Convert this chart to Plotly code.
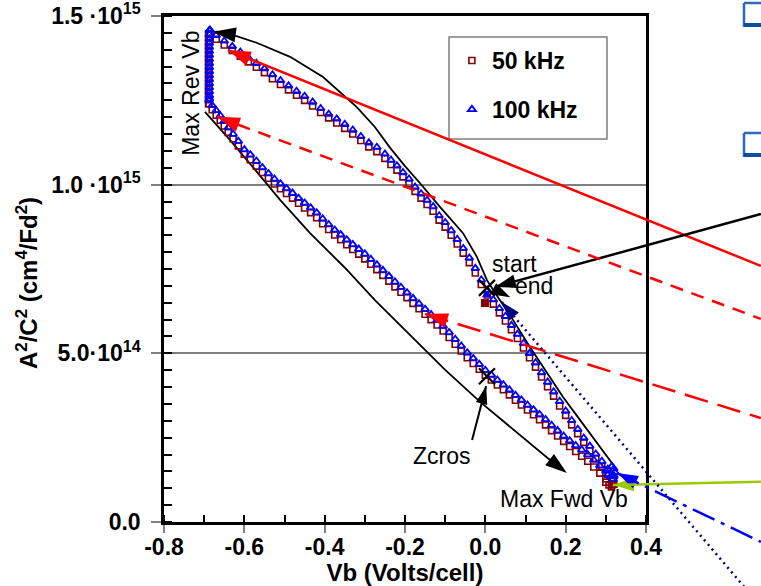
import math
import plotly.graph_objects as go

# ---------------- axes ----------------
X_RANGE = [-0.8, 0.4]
Y_MAX = 1.5          # in units of 1e15
SCALE = 1e15
x_tickvals = [-0.8, -0.6, -0.4, -0.2, 0.0, 0.2, 0.4]
x_ticktext = ["-0.8", "-0.6", "-0.4", "-0.2", "0.0", "0.2", "0.4"]
y_tickvals = [0.0, 0.5, 1.0, 1.5]
y_ticktext = ["0.0", "5.0·10<sup>14</sup>", "1.0 ·10<sup>15</sup>", "1.5 ·10<sup>15</sup>"]
x_title = "Vb (Volts/cell)"
y_title = "A<sup>2</sup>/C<sup>2</sup> (cm<sup>4</sup>/Fd<sup>2</sup>)"

# ---------------- data (A^2/C^2 in 1e15 cm^4/Fd^2) ----------------
# Max Rev Vb vertical segment
vb_rev_100 = [-0.687] * 18
a_rev_100 = [1.458, 1.445, 1.432, 1.420, 1.408, 1.396, 1.384, 1.372, 1.360,
             1.348, 1.336, 1.324, 1.312, 1.300, 1.288, 1.276, 1.264, 1.255]
vb_rev_50 = [-0.689] * 18
a_rev_50 = [1.447, 1.434, 1.421, 1.409, 1.397, 1.385, 1.373, 1.361, 1.349,
            1.337, 1.325, 1.313, 1.301, 1.289, 1.277, 1.265, 1.252, 1.240]

# branch from Max Rev Vb down to Max Fwd Vb
vb_down = [-0.688, -0.680, -0.670, -0.660, -0.650, -0.640, -0.628, -0.615, -0.600, -0.585,
           -0.570, -0.555, -0.540, -0.525, -0.510, -0.495, -0.480, -0.465, -0.450, -0.435,
           -0.420, -0.405, -0.390, -0.375, -0.360, -0.345, -0.330, -0.315, -0.300, -0.285,
           -0.270, -0.255, -0.240, -0.225, -0.210, -0.195, -0.180, -0.165, -0.150, -0.135,
           -0.120, -0.105, -0.090, -0.075, -0.060, -0.045, -0.030, -0.015, 0.000, 0.015,
           0.030, 0.045, 0.060, 0.075, 0.090, 0.105, 0.120, 0.135, 0.150, 0.165,
           0.180, 0.195, 0.210, 0.225, 0.240, 0.255, 0.270, 0.285, 0.300, 0.315]
a_down_100 = [1.251, 1.235, 1.220, 1.205, 1.188, 1.169, 1.150, 1.129, 1.104, 1.089,
              1.070, 1.051, 1.033, 1.017, 1.003, 0.989, 0.975, 0.960, 0.946, 0.932,
              0.917, 0.899, 0.882, 0.866, 0.852, 0.837, 0.823, 0.809, 0.795, 0.779,
              0.763, 0.746, 0.729, 0.712, 0.696, 0.680, 0.663, 0.647, 0.631, 0.615,
              0.599, 0.581, 0.562, 0.542, 0.522, 0.502, 0.485, 0.468, 0.450, 0.436,
              0.421, 0.407, 0.392, 0.376, 0.362, 0.347, 0.333, 0.319, 0.304, 0.287,
              0.271, 0.255, 0.241, 0.227, 0.214, 0.200, 0.184, 0.167, 0.152, 0.138]
a_down_50 = [1.240, 1.222, 1.206, 1.191, 1.174, 1.155, 1.136, 1.115, 1.090, 1.074,
             1.055, 1.036, 1.019, 1.002, 0.988, 0.974, 0.960, 0.945, 0.931, 0.917,
             0.902, 0.884, 0.867, 0.851, 0.837, 0.822, 0.808, 0.794, 0.780, 0.764,
             0.748, 0.731, 0.714, 0.697, 0.681, 0.665, 0.648, 0.632, 0.616, 0.600,
             0.584, 0.566, 0.547, 0.527, 0.507, 0.487, 0.470, 0.453, 0.435, 0.421,
             0.406, 0.392, 0.377, 0.361, 0.347, 0.332, 0.318, 0.303, 0.288, 0.271,
             0.255, 0.239, 0.224, 0.209, 0.195, 0.180, 0.163, 0.145, 0.128, 0.110]

# turn-around at Max Fwd Vb
vb_fwd_100 = [0.305, 0.312, 0.318, 0.320, 0.322, 0.320, 0.315]
a_fwd_100 = [0.140, 0.135, 0.128, 0.138, 0.148, 0.158, 0.165]
vb_fwd_50 = [0.300, 0.308, 0.314, 0.316, 0.314]
a_fwd_50 = [0.118, 0.110, 0.104, 0.112, 0.122]

# branch from Max Fwd Vb back up to Max Rev Vb
vb_up = [0.320, 0.305, 0.290, 0.275, 0.260, 0.245, 0.230, 0.215, 0.200, 0.185,
         0.170, 0.155, 0.140, 0.125, 0.110, 0.095, 0.080, 0.065, 0.050, 0.035,
         0.020, 0.005, -0.010, -0.025, -0.040, -0.055, -0.070, -0.085, -0.100, -0.115,
         -0.130, -0.145, -0.160, -0.175, -0.190, -0.205, -0.220, -0.235, -0.250, -0.270,
         -0.290, -0.310, -0.330, -0.350, -0.370, -0.390, -0.410, -0.430, -0.450, -0.470,
         -0.490, -0.510, -0.530, -0.550, -0.570, -0.590, -0.610, -0.630, -0.650, -0.670,
         -0.685]
a_up_100 = [0.135, 0.157, 0.180, 0.202, 0.225, 0.249, 0.275, 0.301, 0.329, 0.358,
            0.386, 0.415, 0.443, 0.472, 0.500, 0.530, 0.557, 0.583, 0.610, 0.633,
            0.659, 0.687, 0.718, 0.752, 0.783, 0.811, 0.838, 0.864, 0.888, 0.908,
            0.935, 0.954, 0.973, 0.993, 1.017, 1.036, 1.056, 1.073, 1.091, 1.111,
            1.124, 1.143, 1.162, 1.179, 1.195, 1.209, 1.226, 1.245, 1.262, 1.277,
            1.293, 1.309, 1.326, 1.344, 1.360, 1.376, 1.393, 1.410, 1.426, 1.443,
            1.458]
a_up_50 = [0.112, 0.140, 0.165, 0.188, 0.211, 0.236, 0.262, 0.288, 0.316, 0.344,
           0.373, 0.401, 0.430, 0.459, 0.487, 0.516, 0.544, 0.570, 0.596, 0.620,
           0.646, 0.673, 0.704, 0.738, 0.769, 0.797, 0.824, 0.850, 0.874, 0.895,
           0.921, 0.941, 0.960, 0.980, 1.003, 1.023, 1.043, 1.060, 1.078, 1.098,
           1.112, 1.131, 1.150, 1.167, 1.183, 1.198, 1.214, 1.233, 1.250, 1.265,
           1.281, 1.297, 1.314, 1.332, 1.348, 1.364, 1.381, 1.398, 1.414, 1.431,
           1.447]

# start points (filled)
start_50 = (-0.001, 0.649)
start_100 = (0.004, 0.673)

# fitted guide curves (black)
vb_guide_upper = [-0.660, -0.636, -0.568, -0.486, -0.404, -0.320, -0.275, -0.237, -0.200, -0.163, -0.113,
                  -0.056, -0.021, 0.004, 0.031, 0.061, 0.111, 0.153, 0.193, 0.236, 0.278, 0.328]
a_guide_upper = [1.451, 1.447, 1.420, 1.379, 1.319, 1.230, 1.171, 1.109, 1.055, 1.005, 0.934,
                 0.857, 0.786, 0.717, 0.667, 0.614, 0.519, 0.445, 0.371, 0.302, 0.234, 0.154]
vb_guide_lower = [-0.698, -0.636, -0.573, -0.511, -0.437, -0.349, -0.275, -0.188, -0.100, -0.013, 0.086, 0.161, 0.190]
a_guide_lower = [1.216, 1.133, 1.044, 0.955, 0.857, 0.753, 0.658, 0.554, 0.451, 0.356, 0.258, 0.184, 0.158]

# cross markers (start / zero crossing)
vb_cross = [0.004, 0.004]
a_cross = [0.694, 0.432]

# arrows: head x, head y, tail x, tail y, color, width, dash, head size
arrows = [
    (-0.641, 1.399, 0.686, 0.759, "#ff0000", 2.5, "solid", 24),
    (0.024, 0.697, 0.686, 0.913, "#000000", 2.5, "solid", 22),
    (0.318, 0.110, 0.686, 0.119, "#99cc00", 2.5, "solid", 22),
    (-0.668, 1.201, 0.686, 0.602, "#ff0000", 2.5, "13px,9px", 24),
    (-0.150, 0.617, 0.686, 0.308, "#ff0000", 2.5, "24px,10px", 24),
    (0.328, 0.145, 0.686, -0.059, "#0000ff", 2.5, "24px,7px,4px,7px", 22),
    (0.041, 0.652, 0.650, -0.200, "#000080", 2.5, "2px,4px", 20),
    (0.002, 0.403, -0.033, 0.243, "#000000", 2.0, "solid", 19),
]
# heads only (ends of the black guide curves, "end" marker)
heads_only = [
    (-0.678, 1.453, -0.623, 1.444, 24),
    (0.203, 0.145, 0.161, 0.184, 23),
    (0.062, 0.666, 0.031, 0.685, 20),
]

labels = ["Max Rev Vb", "start", "end", "Zcros", "Max Fwd Vb"]
label_x = [-0.733, 0.072, 0.120, -0.108, 0.196]
label_y = [1.272, 0.764, 0.700, 0.196, 0.068]
label_angle = [-90, 0, 0, 0, 0]

# ---------------- layout constants ----------------
W, H = 761, 586
ML, MR, MT, MB = 164, 115, 16, 64
PW, PH = W - ML - MR, H - MT - MB
FONT = "Liberation Sans, Arial, sans-serif"


def to_paper(x, y):
    return (x - X_RANGE[0]) / (X_RANGE[1] - X_RANGE[0]), y / Y_MAX


def px_to_paper(px, py):
    return (px - ML) / PW, (H - MB - py) / PH


def head_angle(hx, hy, tx, ty):
    vx = (hx - tx) / (X_RANGE[1] - X_RANGE[0]) * PW
    vy = -(hy - ty) / Y_MAX * PH      # screen y (down)
    return math.degrees(math.atan2(vx, -vy))


fig = go.Figure()

# guide curves
fig.add_trace(go.Scatter(x=vb_guide_upper, y=[v * SCALE for v in a_guide_upper], mode="lines",
                         line=dict(color="black", width=1.8), showlegend=False, hoverinfo="skip"))
fig.add_trace(go.Scatter(x=vb_guide_lower, y=[v * SCALE for v in a_guide_lower], mode="lines",
                         line=dict(color="black", width=1.8), showlegend=False, hoverinfo="skip"))

# 50 kHz
x50 = vb_rev_50 + vb_down + vb_fwd_50 + vb_up
y50 = a_rev_50 + a_down_50 + a_fwd_50 + a_up_50
fig.add_trace(go.Scatter(x=x50, y=[v * SCALE for v in y50], mode="markers",
                         name="<b>50 kHz</b>", legendgroup="a",
                         marker=dict(symbol="square-open", size=6, color="#800000",
                                     line=dict(width=1.6, color="#800000"))))
# 100 kHz
x100 = vb_rev_100 + vb_down + vb_fwd_100 + vb_up
y100 = a_rev_100 + a_down_100 + a_fwd_100 + a_up_100
fig.add_trace(go.Scatter(x=x100, y=[v * SCALE for v in y100], mode="markers",
                         name="<b>100 kHz</b>", legendgroup="b",
                         marker=dict(symbol="triangle-up-open", size=7, color="#0000ff",
                                     line=dict(width=1.8, color="#0000ff"))))

# start points
fig.add_trace(go.Scatter(x=[start_50[0]], y=[start_50[1] * SCALE], mode="markers", showlegend=False,
                         marker=dict(symbol="square", size=8, color="#800000")))
fig.add_trace(go.Scatter(x=[start_100[0]], y=[start_100[1] * SCALE], mode="markers", showlegend=False,
                         marker=dict(symbol="triangle-up", size=9, color="#0000ff")))
# crosses
fig.add_trace(go.Scatter(x=vb_cross, y=[v * SCALE for v in a_cross], mode="markers", showlegend=False,
                         marker=dict(symbol="x-thin", size=16, line=dict(width=2.2, color="black"))))

shapes = []
annotations = []

# legend frame
lx0, ly0 = px_to_paper(449, 37)
lx1, ly1 = px_to_paper(607, 139)
shapes.append(dict(type="rect", xref="paper", yref="paper", x0=lx0, x1=lx1, y0=ly1, y1=ly0,
                   line=dict(color="#808080", width=1.5), fillcolor="white", layer="above"))

# arrow shafts (unclipped, paper coords) + heads (markers)
for hx, hy, tx, ty, col, w, dash, hs in arrows:
    x0, y0 = to_paper(hx, hy)
    x1, y1 = to_paper(tx, ty)
    shapes.append(dict(type="line", xref="paper", yref="paper", x0=x0, y0=y0, x1=x1, y1=y1,
                       line=dict(color=col, width=w, dash=dash)))
    fig.add_trace(go.Scatter(x=[hx], y=[hy * SCALE], mode="markers", showlegend=False,
                             cliponaxis=False, hoverinfo="skip",
                             marker=dict(symbol="arrow", size=hs, color=col,
                                         angle=head_angle(hx, hy, tx, ty),
                                         line=dict(width=0))))

for hx, hy, tx, ty, hs in heads_only:
    fig.add_trace(go.Scatter(x=[hx], y=[hy * SCALE], mode="markers", showlegend=False,
                             cliponaxis=False, hoverinfo="skip",
                             marker=dict(symbol="arrow", size=hs, color="black",
                                         angle=head_angle(hx, hy, tx, ty),
                                         line=dict(width=0))))

for t, lx, ly, ang in zip(labels, label_x, label_y, label_angle):
    annotations.append(dict(x=lx, y=ly * SCALE, xref="x", yref="y", text=t, showarrow=False,
                            textangle=ang, font=dict(family=FONT, size=23, color="black")))

# y-axis title placed as an annotation
tx_, ty_ = px_to_paper(27, 283)
annotations.append(dict(x=tx_, y=ty_, xref="paper", yref="paper", text="<b>" + y_title + "</b>",
                        showarrow=False, textangle=-90, xanchor="center", yanchor="middle",
                        font=dict(family=FONT, size=24, color="black")))

# slide bullet icons at top-right (cropped by the image edge)
for top in (3, 133):
    xl, yt = px_to_paper(744, top)
    xr, yb = px_to_paper(W + 5, top + 20)
    _, yb2 = px_to_paper(W, top + 24)
    shapes.append(dict(type="line", xref="paper", yref="paper", x0=xl, x1=xr, y0=yt, y1=yt,
                       line=dict(color="#2a6ab8", width=2.5)))
    shapes.append(dict(type="line", xref="paper", yref="paper", x0=xl, x1=xl, y0=yt, y1=yb2,
                       line=dict(color="#2a6ab8", width=2.5)))
    shapes.append(dict(type="rect", xref="paper", yref="paper", x0=xl, x1=xr, y0=yb2, y1=yb,
                       line=dict(width=0), fillcolor="#0d4f9e"))

fig.update_layout(
    width=W, height=H, autosize=False,
    margin=dict(l=ML, r=MR, t=MT, b=MB, pad=0),
    paper_bgcolor="white", plot_bgcolor="white",
    font=dict(family=FONT, size=23, color="black"),
    shapes=shapes, annotations=annotations,
    legend=dict(x=(449 - ML) / PW + 0.006, y=(H - MB - 39) / PH, xanchor="left", yanchor="top",
                bgcolor="rgba(0,0,0,0)", borderwidth=0,
                font=dict(family=FONT, size=23, color="black"),
                traceorder="grouped", tracegroupgap=16),
    xaxis=dict(range=X_RANGE, tickmode="array", tickvals=x_tickvals,
               ticktext=["<b>" + t + "</b>" for t in x_ticktext],
               automargin=False, ticklabelstandoff=-5,
               tickfont=dict(family=FONT, size=23, color="black"),
               ticks="outside", ticklen=8, tickcolor="#808080", tickwidth=1.5,
               minor=dict(dtick=0.1, ticks="inside", ticklen=7, tickcolor="black", tickwidth=1.5),
               showgrid=False, zeroline=False, showline=True, linecolor="black", linewidth=2.5,
               mirror=True,
               title=dict(text="<b>" + x_title + "</b>", font=dict(family=FONT, size=24), standoff=2)),
    yaxis=dict(range=[0, Y_MAX * SCALE], tickmode="array", tickvals=[v * SCALE for v in y_tickvals],
               ticktext=["<b>" + t + "</b>" for t in y_ticktext],
               automargin=False, ticklabeloverflow="allow",
               tickfont=dict(family=FONT, size=23, color="black"),
               ticks="outside", ticklen=10, tickcolor="#808080", tickwidth=1.5,
               ticklabelstandoff=6,
               minor=dict(dtick=0.05 * SCALE, ticks="inside", ticklen=8, tickcolor="black", tickwidth=1.5),
               showgrid=True, gridcolor="#808080", gridwidth=1.5,
               zeroline=False, showline=True, linecolor="black", linewidth=2.5, mirror=True),
)

fig.write_html("out.html", config={"displayModeBar": False},
               post_script="document.body.style.margin='0';document.body.style.overflow='hidden';")
